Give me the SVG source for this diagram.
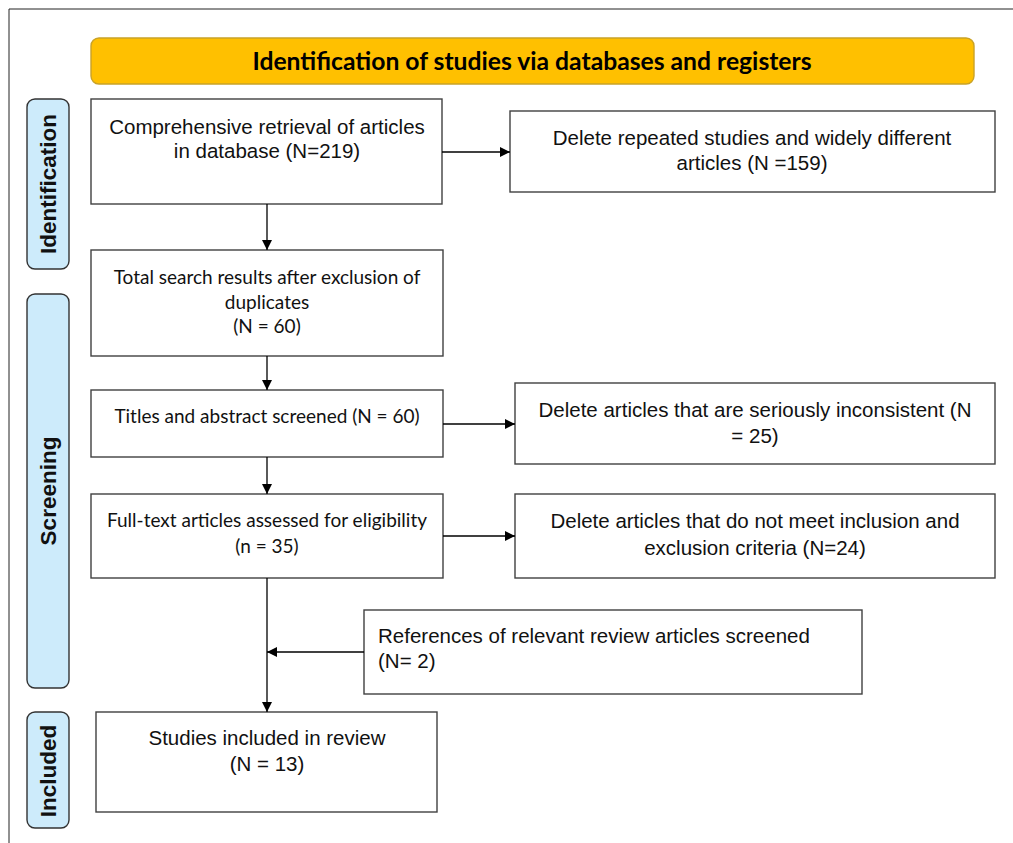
<svg xmlns="http://www.w3.org/2000/svg" width="1013" height="843" viewBox="0 0 1013 843">
<defs>
<marker id="ah" viewBox="0 0 10 10" refX="10" refY="5" markerWidth="10" markerHeight="10" markerUnits="userSpaceOnUse" orient="auto">
<path d="M0,0 L10,5 L0,10 Z" fill="#000"/>
</marker>
<style>
.box{fill:#fff;stroke:#404040;stroke-width:1.4}
.side{fill:#cdebfb;stroke:#333;stroke-width:1.4}
.ar{font-family:'Liberation Sans',sans-serif;font-size:20.5px;fill:#111}
.ca{font-family:Lato,'Open Sans',sans-serif;font-size:19px;fill:#111}
.sl{font-family:'Liberation Sans',sans-serif;font-size:22.5px;font-weight:bold;fill:#111}
.hd{font-family:Lato,'Open Sans',sans-serif;font-size:24.7px;font-weight:bold;fill:#000}
.cn{stroke:#000;stroke-width:1.3;fill:none;marker-end:url(#ah)}
</style>
</defs>
<rect width="1013" height="843" fill="#fff"/>
<path d="M9,843 L9,9 L1013,9" fill="none" stroke="#222" stroke-width="1"/>

<g id="header">
<rect x="91" y="38" width="883" height="46" rx="8" fill="#ffc000" stroke="#c9a227" stroke-width="1.4"/>
<text class="hd" x="532" y="70" text-anchor="middle">Identification of studies via databases and registers</text>
</g>

<g id="side-identification">
<rect class="side" x="27" y="99" width="42" height="170" rx="8"/>
<text class="sl" transform="translate(56,184) rotate(-90)" text-anchor="middle" font-size="23">Identification</text>
</g>
<g id="side-screening">
<rect class="side" x="27" y="294" width="42" height="394" rx="8"/>
<text class="sl" transform="translate(56,491) rotate(-90)" text-anchor="middle">Screening</text>
</g>
<g id="side-included">
<rect class="side" x="27" y="712" width="42" height="116" rx="8"/>
<text class="sl" transform="translate(56,771) rotate(-90)" text-anchor="middle">Included</text>
</g>

<g id="n-retrieval">
<rect class="box" x="91" y="99" width="351" height="105"/>
<text class="ar" text-anchor="middle" x="267" y="134">Comprehensive retrieval of articles</text>
<text class="ar" text-anchor="middle" x="267" y="158">in database (N=219)</text>
</g>
<g id="n-deleted1">
<rect class="box" x="510" y="111" width="485" height="81"/>
<text class="ar" text-anchor="middle" x="752" y="145">Delete repeated studies and widely different</text>
<text class="ar" text-anchor="middle" x="752" y="170">articles (N =159)</text>
</g>
<g id="n-total">
<rect class="box" x="91" y="250" width="352" height="106"/>
<text class="ca" text-anchor="middle" x="267" y="284">Total search results after exclusion of</text>
<text class="ca" text-anchor="middle" x="267" y="309">duplicates</text>
<text class="ca" text-anchor="middle" x="267" y="333">(N = 60)</text>
</g>
<g id="n-titles">
<rect class="box" x="91" y="390" width="352" height="67"/>
<text class="ca" text-anchor="middle" x="267" y="423">Titles and abstract screened (N = 60)</text>
</g>
<g id="n-deleted2">
<rect class="box" x="515" y="383" width="480" height="81"/>
<text class="ar" text-anchor="middle" x="755" y="417">Delete articles that are seriously inconsistent (N</text>
<text class="ar" text-anchor="middle" x="755" y="443">= 25)</text>
</g>
<g id="n-fulltext">
<rect class="box" x="91" y="494" width="352" height="84"/>
<text class="ca" text-anchor="middle" x="267" y="527">Full-text articles assessed for eligibility</text>
<text class="ca" text-anchor="middle" x="267" y="553">(n = 35)</text>
</g>
<g id="n-deleted3">
<rect class="box" x="515" y="494" width="480" height="84"/>
<text class="ar" text-anchor="middle" x="755" y="528">Delete articles that do not meet inclusion and</text>
<text class="ar" text-anchor="middle" x="755" y="555">exclusion criteria (N=24)</text>
</g>
<g id="n-references">
<rect class="box" x="364" y="610" width="498" height="84"/>
<text class="ar" x="378" y="643">References of relevant review articles screened</text>
<text class="ar" x="378" y="668">(N= 2)</text>
</g>
<g id="n-included">
<rect class="box" x="96" y="712" width="341" height="100"/>
<text class="ar" text-anchor="middle" x="267" y="745">Studies included in review</text>
<text class="ar" text-anchor="middle" x="267" y="771">(N = 13)</text>
</g>

<g id="connectors">
<line class="cn" x1="267" y1="204" x2="267" y2="250"/>
<line class="cn" x1="442" y1="152" x2="510" y2="152"/>
<line class="cn" x1="267" y1="356" x2="267" y2="390"/>
<line class="cn" x1="443" y1="424" x2="515" y2="424"/>
<line class="cn" x1="267" y1="457" x2="267" y2="494"/>
<line class="cn" x1="443" y1="536" x2="515" y2="536"/>
<line class="cn" x1="267" y1="578" x2="267" y2="712"/>
<line class="cn" x1="364" y1="652" x2="267" y2="652"/>
</g>
</svg>
